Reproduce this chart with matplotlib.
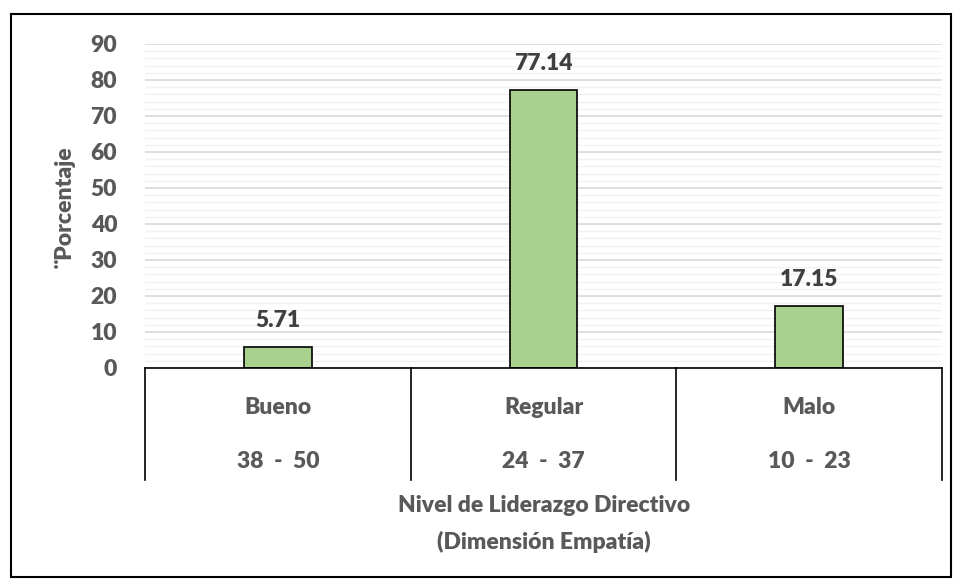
import matplotlib.pyplot as plt
import matplotlib.transforms as mtransforms
from matplotlib.patches import Rectangle
import numpy as np

categorias = ["Bueno", "Regular", "Malo"]
rangos = ["38  -  50", "24  -  37", "10  -  23"]
porcentajes = [5.71, 77.14, 17.15]
etiquetas = ["5.71", "77.14", "17.15"]

plt.rcParams['font.family'] = ['Lato', 'DejaVu Sans']
plt.rcParams['font.weight'] = 'heavy'

gris = '#595959'
oscuro = '#404040'
fs = 16.5

fig = plt.figure(figsize=(9.59, 5.83), dpi=100)
ax = fig.add_axes([145/959, 1 - 368/583, (942 - 145)/959, (368 - 44)/583])

x = np.arange(len(categorias))
ax.bar(x, porcentajes, width=0.255, color='#A9D18E', edgecolor='black', linewidth=1.2, zorder=3)

for xi, v, lab in zip(x, porcentajes, etiquetas):
    ax.text(xi, v + 7.5, lab, ha='center', va='center', fontsize=fs, fontweight='heavy', color=oscuro)

ax.set_xlim(-0.5, 2.5)
ax.set_ylim(0, 90)
ax.set_yticks(np.arange(0, 91, 10))
ax.set_yticks(np.arange(0, 91, 2), minor=True)
ax.tick_params(axis='y', which='both', length=0, labelsize=fs, labelcolor=gris, pad=20)
for t in ax.get_yticklabels():
    t.set_fontweight('heavy')
ax.tick_params(axis='x', which='both', length=0, labelbottom=False)
ax.grid(axis='y', which='major', color='#D9D9D9', linewidth=1.2, zorder=0)
ax.grid(axis='y', which='minor', color='#F2F2F2', linewidth=1.0, zorder=0)
for s in ['top', 'right', 'left']:
    ax.spines[s].set_visible(False)
ax.spines['bottom'].set_color('black')
ax.spines['bottom'].set_linewidth(1.2)
ax.spines['bottom'].set_zorder(4)

# multi-level category axis
trans = mtransforms.blended_transform_factory(ax.transData, ax.transAxes)
bajo = -(480 - 368) / (368 - 44)
for b in np.arange(-0.5, 3.0, 1.0):
    ax.plot([b, b], [0, bajo], color='black', linewidth=1.2, transform=trans, clip_on=False)
for xi, c, r in zip(x, categorias, rangos):
    ax.text(xi, -(407 - 368) / 324, c, transform=trans, ha='center', va='center',
            fontsize=fs, fontweight='heavy', color=gris)
    ax.text(xi, -(462 - 368) / 324, r, transform=trans, ha='center', va='center',
            fontsize=fs, fontweight='heavy', color=gris)

fig.text(544/959, 1 - 505/583, "Nivel de Liderazgo Directivo", ha='center', va='center',
         fontsize=fs, fontweight='heavy', color=gris)
fig.text(544/959, 1 - 542/583, "(Dimensión Empatía)", ha='center', va='center',
         fontsize=fs, fontweight='heavy', color=gris)
fig.text(65/959, 1 - 207/583, "¨Porcentaje", rotation=90, ha='center', va='center',
         fontsize=fs, fontweight='heavy', color=gris)

fig.patches.append(Rectangle((11/959, 1 - 577/583), 940/959, 563/583, transform=fig.transFigure,
                             fill=False, edgecolor='black', linewidth=1.5))

fig.savefig('out.png', dpi=100)
